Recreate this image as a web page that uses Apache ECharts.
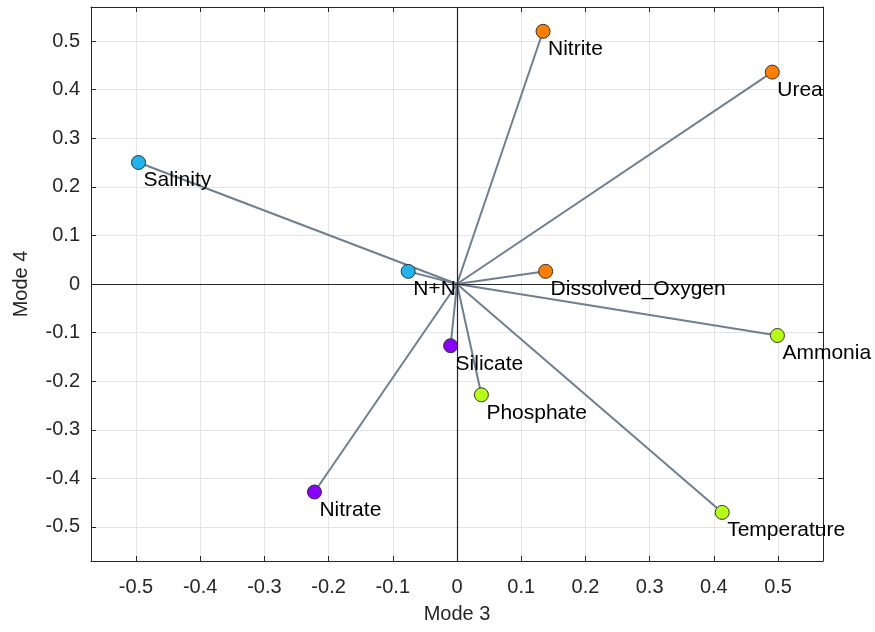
<!DOCTYPE html>
<html>
<head>
<meta charset="utf-8">
<script src="https://cdn.jsdelivr.net/npm/echarts@6/dist/echarts.min.js"></script>
<style>html,body{margin:0;padding:0;background:#fff}#c{width:875px;height:632px}</style>
</head>
<body>
<div id="c"></div>
<script>
// ---- data ----
const varNames = ['Nitrite','Urea','Salinity','N+N','Dissolved_Oxygen','Ammonia','Silicate','Phosphate','Nitrate','Temperature'];
const mode3    = [0.134, 0.491, -0.496, -0.076, 0.138, 0.499, -0.010, 0.038, -0.222, 0.413];
const mode4    = [0.520, 0.436, 0.250, 0.026, 0.026, -0.106, -0.127, -0.228, -0.428, -0.470];
const groupIdx = [0, 0, 1, 1, 0, 3, 2, 3, 2, 3];
const tickVals = [-0.5,-0.4,-0.3,-0.2,-0.1,0,0.1,0.2,0.3,0.4,0.5];
const tickLabels = ['-0.5','-0.4','-0.3','-0.2','-0.1','0','0.1','0.2','0.3','0.4','0.5'];
const axisMin = -0.57, axisMax = 0.57;

// ---- styles ----
const groupColors = ['#ff7f00', '#1fb4ee', '#8800ff', '#b4ff14'];
const FONT = '"Liberation Sans", Arial, Helvetica, sans-serif';
const txt = '#262626';

const chart = echarts.init(document.getElementById('c'), null, {renderer: 'canvas'});

function lblFmt(v) {
  const i = tickVals.findIndex(t => Math.abs(t - v) < 1e-9);
  return i >= 0 ? tickLabels[i] : '';
}

function mkAxis(isX, pos, primary) {
  return {
    type: 'value',
    position: pos,
    min: axisMin, max: axisMax,
    name: primary ? (isX ? 'Mode 3' : 'Mode 4') : '',
    nameLocation: 'middle',
    nameGap: isX ? 43 : 60,
    nameTextStyle: {fontFamily: FONT, fontSize: 20, color: txt},
    axisLine: {show: true, onZero: false, lineStyle: {color: '#262626', width: 1}},
    axisTick: {show: true, inside: true, length: 5, customValues: tickVals, lineStyle: {color: '#262626', width: 1}},
    axisLabel: {show: primary, customValues: tickVals, formatter: lblFmt, margin: isX ? 16 : 11,
      fontFamily: FONT, fontSize: 20, color: txt},
    splitLine: {show: primary, lineStyle: {color: '#e3e3e3', width: 1}},
    zlevel: 0
  };
}

const series = [];
for (let i = 0; i < varNames.length; i++) {
  series.push({
    type: 'line',
    data: [[0, 0], [mode3[i], mode4[i]]],
    showSymbol: false,
    symbol: 'none',
    lineStyle: {color: '#6f7f8f', width: 2},
    silent: true,
    z: 3
  });
}
series.push({
  type: 'scatter',
  data: varNames.map((n, i) => ({
    name: n,
    value: [mode3[i], mode4[i]],
    itemStyle: {color: groupColors[groupIdx[i]]}
  })),
  symbolSize: 14,
  itemStyle: {borderColor: '#333', borderWidth: 1, opacity: 1},
  label: {
    show: true, position: 'inside', align: 'left', verticalAlign: 'middle',
    offset: [5, 18],
    formatter: p => p.name,
    fontFamily: FONT, fontSize: 21, color: '#000'
  },
  z: 5
});
series.push({
  type: 'line',
  data: [],
  markLine: {
    silent: true, symbol: 'none', label: {show: false},
    lineStyle: {color: '#262626', width: 1.2, type: 'solid'},
    data: [{xAxis: 0}, {yAxis: 0}],
    animation: false
  },
  z: 2
});

chart.setOption({
  animation: false,
  backgroundColor: '#fff',
  grid: {left: 91, right: 52, top: 7, bottom: 71, show: false, containLabel: false},
  xAxis: [mkAxis(true, 'bottom', true), mkAxis(true, 'top', false)],
  yAxis: [mkAxis(false, 'left', true), mkAxis(false, 'right', false)],
  series: series
});
</script>
</body>
</html>
